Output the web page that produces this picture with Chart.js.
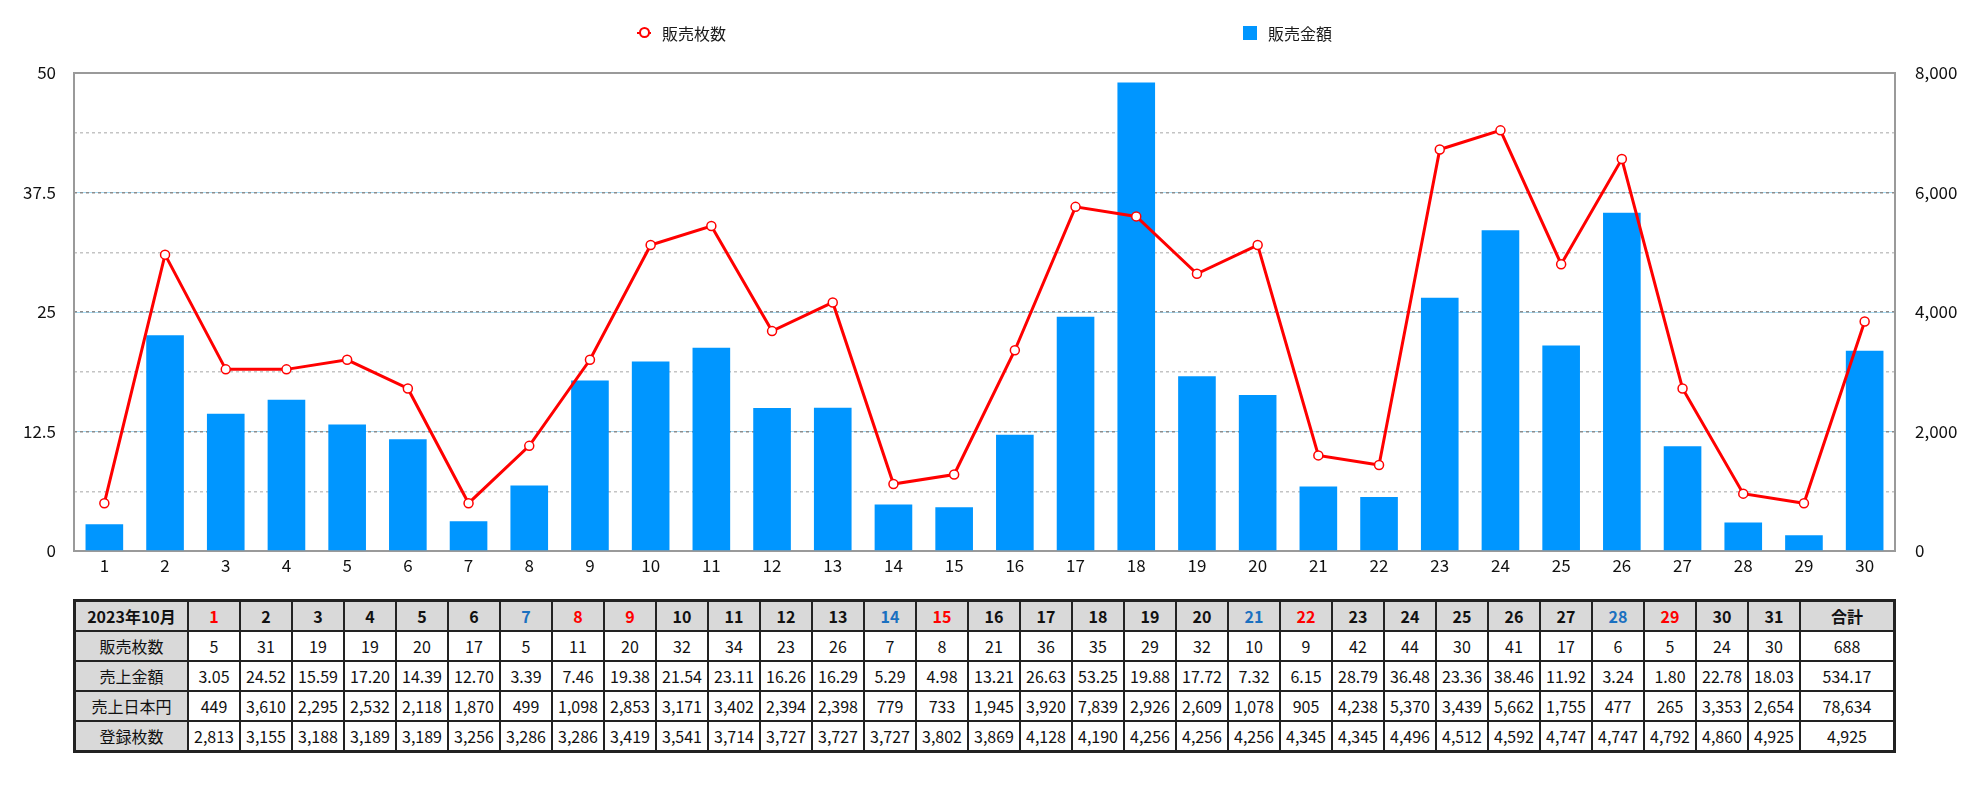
<!DOCTYPE html>
<html>
<head>
<meta charset="utf-8">
<script src="https://cdn.jsdelivr.net/npm/chart.js@4/dist/chart.umd.min.js"></script>
<style>
  html, body { margin: 0; padding: 0; background: #fff; }
  body { width: 1980px; height: 800px; position: relative; font-family: "Noto Sans CJK JP", "Noto Sans", sans-serif; color: #1a1a1a; }
  #wrap { position: absolute; left: 0; top: 0; width: 1980px; height: 585px; }
  #legend { position: absolute; left: 0; top: 0; width: 1980px; height: 60px; font-size: 16px; }
  .lg { position: absolute; top: 22px; height: 22px; line-height: 22px; white-space: nowrap; }
  .lg-line { position: absolute; left: 0; top: 10px; width: 14px; height: 2px; background: #f00; }
  .lg-circle { position: absolute; left: 2px; top: 5px; width: 7px; height: 7px; border: 2px solid #f00; border-radius: 50%; background: #fff; }
  .lg-box { position: absolute; left: 0; top: 4px; width: 14px; height: 14px; background: #0096ff; }
  #tbl { position: absolute; left: 73px; top: 599px; width: 1823px; border-collapse: separate; border-spacing: 0; border: 2px solid #222; table-layout: fixed; }
  #tbl td, #tbl th { border: 1px solid #222; height: 28px; padding: 0; text-align: center; font-size: 16px; font-weight: normal; color: #111; white-space: nowrap; overflow: hidden; }
  #tbl th { background: #d9d9d9; font-weight: bold; }
  #tbl td.lab { background: #d9d9d9; }
  .red { color: #f00 !important; }
  .blue { color: #1a70c0 !important; }
</style>
</head>
<body>
<div id="wrap"><canvas id="c" width="1980" height="585"></canvas></div>
<div id="legend">
  <div class="lg" style="left:637px;"><span class="lg-line"></span><span class="lg-circle"></span><span style="position:absolute;left:25px;">販売枚数</span></div>
  <div class="lg" style="left:1243px;"><span class="lg-box"></span><span style="position:absolute;left:25px;">販売金額</span></div>
</div>
<table id="tbl"></table>
<script>
// ---- data ----
const monthLabel = "2023年10月";
const dayLabels = [1,2,3,4,5,6,7,8,9,10,11,12,13,14,15,16,17,18,19,20,21,22,23,24,25,26,27,28,29,30,31];
const salesCount = [5,31,19,19,20,17,5,11,20,32,34,23,26,7,8,21,36,35,29,32,10,9,42,44,30,41,17,6,5,24,30];
const salesAmount = [3.05,24.52,15.59,17.20,14.39,12.70,3.39,7.46,19.38,21.54,23.11,16.26,16.29,5.29,4.98,13.21,26.63,53.25,19.88,17.72,7.32,6.15,28.79,36.48,23.36,38.46,11.92,3.24,1.80,22.78,18.03];
const salesYen = [449,3610,2295,2532,2118,1870,499,1098,2853,3171,3402,2394,2398,779,733,1945,3920,7839,2926,2609,1078,905,4238,5370,3439,5662,1755,477,265,3353,2654];
const registered = [2813,3155,3188,3189,3189,3256,3286,3286,3419,3541,3714,3727,3727,3727,3802,3869,4128,4190,4256,4256,4256,4345,4345,4496,4512,4592,4747,4747,4792,4860,4925];
const totals = { count: 688, amount: 534.17, yen: 78634, registered: 4925 };
const redDays = [1,8,9,15,22,29];
const blueDays = [7,14,21,28];
const rowNames = ["販売枚数","売上金額","売上日本円","登録枚数"];
const totalLabel = "合計";
// chart shows days 1..30
const chartDays = dayLabels.slice(0, 30);
const chartCounts = salesCount.slice(0, 30);
const chartYen = salesYen.slice(0, 30);
const leftMax = 50, leftStep = 12.5;
const rightMax = 8000, rightStep = 1000, rightLabelStep = 2000;

// ---- table ----
const nf = new Intl.NumberFormat('en-US');
const tbl = document.getElementById('tbl');
let html = '<colgroup><col style="width:113px">';
for (let i = 0; i < dayLabels.length; i++) html += '<col style="width:52px">';
html += '<col></colgroup>';
html += '<tr><th>' + monthLabel + '</th>';
dayLabels.forEach(d => {
  const cls = redDays.includes(d) ? ' class="red"' : (blueDays.includes(d) ? ' class="blue"' : '');
  html += '<th' + cls + '>' + d + '</th>';
});
html += '<th>' + totalLabel + '</th></tr>';
const rows = [
  [rowNames[0], salesCount.map(v => String(v)), String(totals.count)],
  [rowNames[1], salesAmount.map(v => v.toFixed(2)), totals.amount.toFixed(2)],
  [rowNames[2], salesYen.map(v => nf.format(v)), nf.format(totals.yen)],
  [rowNames[3], registered.map(v => nf.format(v)), nf.format(totals.registered)]
];
rows.forEach(r => {
  html += '<tr><td class="lab">' + r[0] + '</td>';
  r[1].forEach(v => html += '<td>' + v + '</td>');
  html += '<td>' + r[2] + '</td></tr>';
});
tbl.innerHTML = html;

// ---- chart ----
const FONT = "'Noto Sans CJK JP', 'Noto Sans', sans-serif";
const topBorder = {
  id: 'topBorder',
  beforeDatasetsDraw(chart) {
    const a = chart.chartArea, ctx = chart.ctx;
    ctx.save();
    ctx.strokeStyle = '#9a9a9a';
    ctx.lineWidth = 2;
    ctx.beginPath();
    ctx.moveTo(a.left, a.top);
    ctx.lineTo(a.right, a.top);
    ctx.stroke();
    ctx.restore();
  }
};

new Chart(document.getElementById('c'), {
  data: {
    labels: chartDays,
    datasets: [
      {
        type: 'line',
        label: '販売枚数',
        data: chartCounts,
        yAxisID: 'y',
        borderColor: '#f00',
        borderWidth: 3,
        tension: 0,
        pointRadius: 4.5,
        pointBorderWidth: 1.5,
        pointBackgroundColor: '#fff',
        pointBorderColor: '#f00',
        order: 0
      },
      {
        type: 'bar',
        label: '販売金額',
        data: chartYen,
        yAxisID: 'y1',
        backgroundColor: '#0096ff',
        borderWidth: 0,
        categoryPercentage: 1,
        barPercentage: 0.62,
        order: 1
      }
    ]
  },
  options: {
    responsive: false,
    devicePixelRatio: 1,
    animation: false,
    layout: { padding: { top: 73, left: 0, right: 0, bottom: 0 } },
    plugins: { legend: { display: false }, tooltip: { enabled: false } },
    scales: {
      x: {
        grid: { display: false, drawTicks: false },
        border: { display: true, color: '#9a9a9a', width: 2 },
        ticks: { color: '#111', font: { family: FONT, size: 17 }, padding: 4, autoSkip: false, maxRotation: 0 },
        afterFit(s) { s.height = 34; }
      },
      y: {
        position: 'left',
        min: 0, max: leftMax,
        grid: { color: '#a9dcf5', lineWidth: 1, drawTicks: false, z: -2 },
        border: { display: true, color: '#9a9a9a', width: 2 },
        ticks: { stepSize: leftStep, color: '#111', font: { family: FONT, size: 17 }, padding: 18 },
        afterFit(s) { s.width = 74; }
      },
      y1: {
        position: 'right',
        min: 0, max: rightMax,
        grid: {
          color: (ctx) => (ctx.tick && ctx.tick.value % rightLabelStep === 0) ? '#8c8c8c' : '#c4c4c4',
          lineWidth: 1.5, drawTicks: false, z: -1
        },
        border: { display: true, color: '#9a9a9a', width: 2, dash: [3, 3] },
        ticks: {
          stepSize: rightStep, color: '#111', font: { family: FONT, size: 17 }, padding: 20,
          callback: (v) => (v % rightLabelStep === 0) ? nf.format(v) : ''
        },
        afterFit(s) { s.width = 85; }
      }
    }
  },
  plugins: [topBorder]
});
</script>
</body>
</html>
